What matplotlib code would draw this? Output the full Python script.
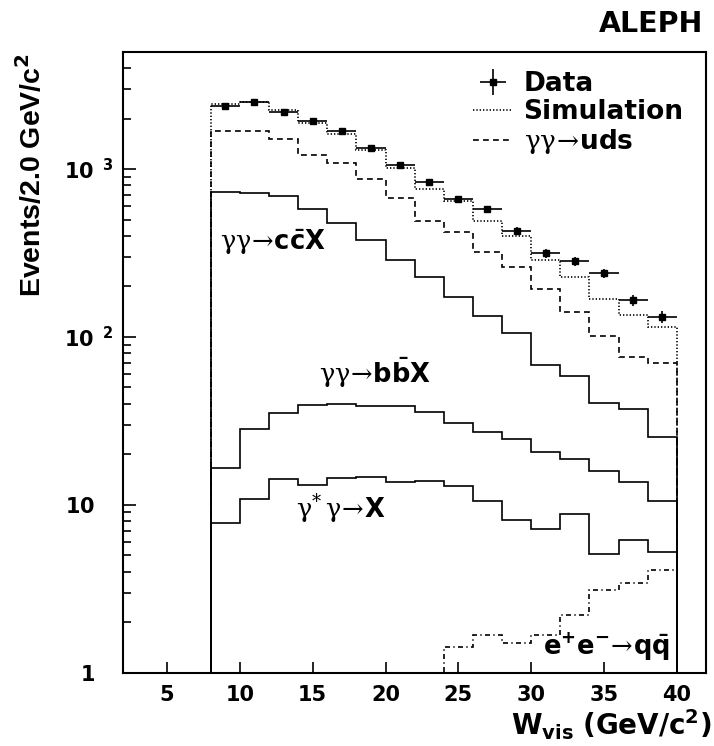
import numpy as np
import matplotlib
matplotlib.use("Agg")
import matplotlib.pyplot as plt
import matplotlib.transforms as mtransforms
from matplotlib.ticker import FixedLocator, LogLocator, NullFormatter, NullLocator
from matplotlib.lines import Line2D

plt.rcParams['mathtext.fontset'] = 'custom'
plt.rcParams['mathtext.rm'] = 'DejaVu Serif'
plt.rcParams['mathtext.it'] = 'DejaVu Serif:italic'
plt.rcParams['mathtext.bf'] = 'DejaVu Sans:bold'
plt.rcParams['mathtext.sf'] = 'DejaVu Sans'
plt.rcParams['font.family'] = ['DejaVu Sans']

# ---- data (W_vis bins of 2 GeV/c^2) ----
bin_edges = np.arange(8, 42, 2)
data_counts = [2370, 2500, 2200, 1920, 1690, 1330, 1060, 840, 660, 580, 430, 315, 282, 239, 166, 132]
simulation = [2430, 2510, 2240, 1870, 1610, 1300, 1020, 764, 645, 488, 399, 287, 228, 168, 136, 114]
gg_uds = [1680, 1680, 1500, 1220, 1080, 870, 670, 490, 422, 319, 262, 192, 141, 101, 76, 70]
gg_ccX = [730, 724, 690, 575, 475, 377, 287, 226, 172, 133, 105, 68, 58.6, 40.3, 37.1, 25.5]
gg_bbX = [16.5, 28.2, 35.0, 39.2, 40.1, 38.8, 38.7, 35.8, 30.9, 27.3, 24.6, 20.7, 18.7, 15.9, 13.6, 10.6]
gsg_X = [7.8, 10.8, 14.2, 13.2, 14.4, 14.6, 13.6, 13.8, 13.0, 10.6, 8.15, 7.17, 8.81, 5.09, 6.16, 5.25]
ee_edges = np.arange(22, 42, 2)
ee_qq = [1.0, 1.43, 1.68, 1.50, 1.68, 2.20, 3.12, 3.40, 4.10]

xticks = [5, 10, 15, 20, 25, 30, 35, 40]
yticks = [1, 10, 100, 1000]
ytick_labels = [r"$\mathbf{1}$", r"$\mathbf{10}$", r"$\mathbf{10^{\ \ 2}}$", r"$\mathbf{10^{\ \ 3}}$"]

W, H = 714, 746
fig = plt.figure(figsize=(W / 100, H / 100), dpi=100)
ax = fig.add_axes([123.3 / W, 1 - 672.7 / H, (706 - 123.3) / W, (672.7 - 51.7) / H])

lw = 1.2
ax.stairs(gg_ccX, bin_edges, baseline=0.1, color='black', lw=lw)
ax.stairs(gg_bbX, bin_edges, baseline=0.1, color='black', lw=lw)
ax.stairs(gsg_X, bin_edges, baseline=0.1, color='black', lw=lw)
ax.stairs(gg_uds, bin_edges, baseline=0.1, color='black', lw=lw, linestyle=(0, (3.5, 2.5)))
ax.stairs(simulation, bin_edges, baseline=0.1, color='black', lw=lw, linestyle=(0, (0.8, 1.2)))
ax.stairs(ee_qq, ee_edges, baseline=0.1, color='black', lw=lw, linestyle=(0, (3, 2, 0.8, 2)))

centers = 0.5 * (bin_edges[:-1] + bin_edges[1:])
data_arr = np.array(data_counts, dtype=float)
eb = ax.errorbar(centers, data_arr, xerr=1.0, yerr=np.sqrt(data_arr), fmt='s', color='black',
                 ms=5, lw=1.2, capsize=0, label='Data')

ax.set_yscale('log')
ax.set_xlim(2, 42)
ax.set_ylim(1, 5000)

ax.xaxis.set_major_locator(FixedLocator(xticks))
ax.xaxis.set_minor_locator(NullLocator())
ax.set_xticklabels([str(t) for t in xticks])
ax.yaxis.set_major_locator(FixedLocator(yticks))
ax.set_yticklabels(ytick_labels)
ax.yaxis.set_minor_locator(LogLocator(base=10, subs=np.arange(2, 10), numticks=20))
ax.yaxis.set_minor_formatter(NullFormatter())

ax.tick_params(axis='both', which='both', direction='in', top=False, right=False, width=1.2)
ax.tick_params(axis='y', which='major', length=9, pad=7, labelsize=15)
ax.tick_params(axis='y', which='minor', length=5.5)
ax.tick_params(axis='x', which='major', length=8, pad=9, labelsize=15)
for lab in ax.get_xticklabels() + ax.get_yticklabels():
    lab.set_fontweight('bold')
for sp in ax.spines.values():
    sp.set_linewidth(1.5)

# labels without exponent are right-aligned with the mantissa of the others
shift = mtransforms.ScaledTranslation(-19 / 100, 0, fig.dpi_scale_trans)
for tk in ax.yaxis.get_major_ticks()[:2]:
    tk.label1.set_transform(tk.label1.get_transform() + shift)

# legend
h_sim = Line2D([], [], color='black', lw=lw, linestyle=(0, (0.8, 1.2)))
h_uds = Line2D([], [], color='black', lw=lw, linestyle=(0, (3.5, 2.5)))
leg = ax.legend([eb, h_sim, h_uds],
                ['Data', 'Simulation', r"$\mathrm{\gamma\gamma\!\rightarrow\!}\mathbf{uds}$"],
                loc='upper left', bbox_to_anchor=(0.600, 0.969), frameon=False,
                borderpad=0, borderaxespad=0, handlelength=1.5, handletextpad=0.42,
                labelspacing=0.08, prop={'family': 'DejaVu Sans', 'weight': 'bold', 'size': 19})

# process labels
fs = 18.5
ax.text(8.67, 329, r"$\mathrm{\gamma\gamma\!\rightarrow\!}\mathbf{c\bar{c}X}$", fontsize=fs, va='baseline', ha='left')
ax.text(15.43, 52.9, r"$\mathrm{\gamma\gamma\!\rightarrow\!}\mathbf{b\bar{b}X}$", fontsize=fs, va='baseline', ha='left')
ax.text(13.85, 8.31, r"$\mathrm{\gamma^{*}\,\gamma\!\rightarrow\!}\mathbf{X}$", fontsize=fs, va='baseline', ha='left')
ax.text(30.8, 1.275, r"$\mathbf{e^{+}e^{-}}\mathrm{\!\rightarrow\!}\mathbf{q\bar{q}}$", fontsize=fs, va='baseline', ha='left')

fig.text(703 / W, 1 - 32 / H, 'ALEPH', fontsize=20.5, fontweight='bold', ha='right', va='baseline')
fig.text(712 / W, 1 - 735 / H, r"$\mathbf{W_{vis}\ (GeV/c^{2})}$", fontsize=20, ha='right', va='baseline')
fig.text(32 / W, 1 - 53 / H, r"Events/2.0 GeV/c$^{\mathbf{2}}$", family=['Liberation Sans'], fontweight='bold',
         fontsize=20.5, rotation=90, ha='center', va='top')

fig.savefig('out.png', dpi=100)
